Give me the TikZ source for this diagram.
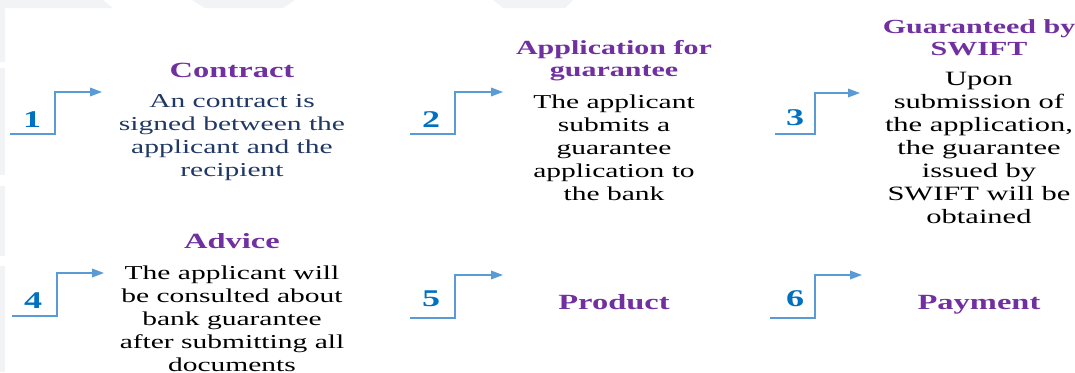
\documentclass[tikz,border=0pt]{standalone}
\usepackage{fontspec}
\setmainfont{Liberation Serif}[FakeStretch=1.5]
\usepackage{xcolor}
\usepackage{tikz}
\usetikzlibrary{positioning,arrows.meta}
\definecolor{steppurple}{HTML}{7030A0}
\definecolor{stepblue}{HTML}{0070C0}
\definecolor{linkblue}{HTML}{5B9BD5}
\definecolor{navytext}{HTML}{1F3864}
\definecolor{bandgrey}{HTML}{F2F3F5}
\tikzstyle{numlabel} = [inner sep=0pt, font=\fontsize{18}{20}\selectfont\bfseries, text=stepblue]
\tikzstyle{headlabel} = [inner sep=0pt, font=\fontsize{16.25}{16.5}\selectfont\bfseries, text=steppurple, align=center]
\tikzstyle{bodytext} = [inner sep=0pt, font=\fontsize{14.75}{17.25}\selectfont, align=center]
\tikzstyle{arrow} = [-{Triangle[length=9pt,width=6.5pt]}, draw=linkblue, line width=1pt]

\begin{document}
\begin{tikzpicture}[x=0.75pt, y=-0.75pt, node distance=12.75pt]
    \useasboundingbox (0,0) rectangle (1075,372);

    % Background band
    \fill[bandgrey] (0,0) -- (103,0) -- (113,8) -- (5,8) -- (5,62) -- (0,62) -- cycle;
    \fill[bandgrey] (192,0) -- (295,0) -- (283,8) -- (205,8) -- cycle;
    \fill[bandgrey] (493,0) -- (573,0) -- (565,8) -- (503,8) -- cycle;
    \fill[bandgrey] (0,68) rectangle (5,175);
    \fill[bandgrey] (0,186) rectangle (5,256);
    \fill[bandgrey] (0,266) rectangle (5,372);

    % Numbers
    \node[numlabel] (n1) at (32,120) {1};
    \node[numlabel] (n2) at (431,120) {2};
    \node[numlabel] (n3) at (795,118) {3};
    \node[numlabel] (n4) at (33,301) {4};
    \node[numlabel] (n5) at (431,299) {5};
    \node[numlabel] (n6) at (795,299) {6};

    % Step lines
    \coordinate (s1) at (10,134);  \coordinate (t1) at (102,92);
    \coordinate (s2) at (410,134); \coordinate (t2) at (503,92);
    \coordinate (s3) at (775,134); \coordinate (t3) at (860,93);
    \coordinate (s4) at (12,316);  \coordinate (t4) at (104,273);
    \coordinate (s5) at (410,318); \coordinate (t5) at (503,275);
    \coordinate (s6) at (770,318); \coordinate (t6) at (862,275);

    % Descriptions
    \node[bodytext, text=navytext] (b1) at (232,138) {An contract is\\signed between the\\applicant and the\\recipient};
    \node[bodytext] (b2) at (614,148) {The applicant\\submits a\\guarantee\\application to\\the bank};
    \node[bodytext, font=\fontsize{15.25}{17.25}\selectfont] (b3) at (979,148) {Upon\\submission of\\the application,\\the guarantee\\issued by\\SWIFT will be\\obtained};
    \node[bodytext] (b4) at (232,319) {The applicant will\\be consulted about\\bank guarantee\\after submitting all\\documents};

    % Headings
    \node[headlabel, above=of b1] (h1) {Contract};
    \node[headlabel, font=\fontsize{15}{16.5}\selectfont\bfseries, above=10pt of b2] (h2) {Application for\\guarantee};
    \node[headlabel, font=\fontsize{15}{16.5}\selectfont\bfseries, above=12pt of b3] (h3) {Guaranteed by\\SWIFT};
    \node[headlabel, above=of b4] (h4) {Advice};
    \node[headlabel, anchor=base] (h5) at (614,309) {Product};
    \node[headlabel, anchor=base] (h6) at (979,309) {Payment};

    % Arrows
    \draw[arrow] (s1) -- ++(45,0) |- (t1);
    \draw[arrow] (s2) -- ++(45,0) |- (t2);
    \draw[arrow] (s3) -- ++(40,0) |- (t3);
    \draw[arrow] (s4) -- ++(45,0) |- (t4);
    \draw[arrow] (s5) -- ++(45,0) |- (t5);
    \draw[arrow] (s6) -- ++(45,0) |- (t6);
\end{tikzpicture}
\end{document}
